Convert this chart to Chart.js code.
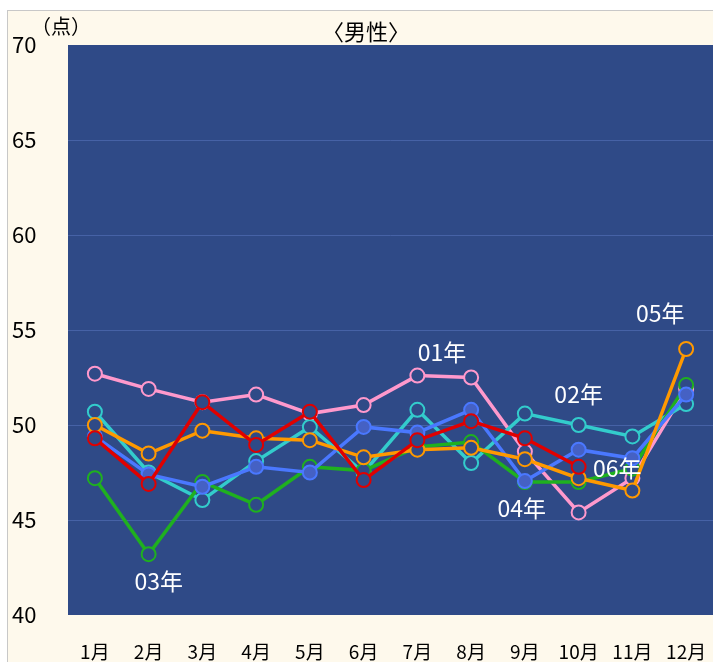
<!DOCTYPE html>
<html>
<head>
<meta charset="utf-8">
<script src="https://cdn.jsdelivr.net/npm/chart.js@4"></script>
<style>
  html, body { margin: 0; padding: 0; background: #fff; overflow: hidden; }
  #frame { position: absolute; left: 7px; top: 10px; width: 706px; height: 652px;
           background: #FEF9EC; border-left: 1px solid #C8C8C8; border-top: 1px solid #C8C8C8; box-sizing: border-box; }
  #chart { position: absolute; left: 0; top: 0; }
</style>
</head>
<body>
<div id="frame"></div>
<canvas id="chart" width="713" height="662"></canvas>
<script>
const months = ["1月", "2月", "3月", "4月", "5月", "6月", "7月", "8月", "9月", "10月", "11月", "12月"];
const yTicks = [40, 45, 50, 55, 60, 65, 70];

// 年ごとの平均点
const y01 = [52.7, 51.9, 51.2, 51.6, 50.6, 51.05, 52.6, 52.5, 48.6, 45.4, 47.2, 51.9];
const y02 = [50.7, 47.5, 46.05, 48.1, 49.9, 47.5, 50.8, 48.0, 50.6, 50.0, 49.4, 51.1];
const y03 = [47.2, 43.2, 47.0, 45.8, 47.8, 47.6, 48.85, 49.1, 47.0, 47.0, 47.7, 52.1];
const y04 = [49.4, 47.4, 46.75, 47.8, 47.5, 49.9, 49.6, 50.8, 47.05, 48.7, 48.25, 51.6];
const y05 = [50.0, 48.5, 49.7, 49.3, 49.2, 48.3, 48.7, 48.8, 48.2, 47.2, 46.55, 54.0];
const y06 = [49.3, 46.9, 51.2, 48.95, 50.7, 47.1, 49.2, 50.2, 49.3, 47.8, null, null];

// 系列ラベル（月の位置, 点数）
const seriesNames = ["01年", "02年", "03年", "04年", "05年", "06年"];
const nameAt = [[6.46, 53.85], [9.0, 51.6], [1.19, 41.8], [7.94, 45.6], [10.52, 55.9], [9.72, 47.7]];

const navy = "#2F4A87";
const font = "'Noto Sans CJK JP', 'Noto Sans', sans-serif";

function serie(label, data, color, fill, order) {
  return {
    label: label,
    data: data,
    borderColor: color,
    borderWidth: 3.5,
    tension: 0,
    pointRadius: 7,
    pointBorderWidth: 2,
    pointBorderColor: color,
    pointBackgroundColor: fill,
    order: order
  };
}

const fondo = {
  id: "fondo",
  beforeDraw(chart) {
    const a = chart.chartArea;
    const ctx = chart.ctx;
    ctx.save();
    ctx.fillStyle = navy;
    ctx.fillRect(a.left, a.top, a.right - a.left + 1, a.bottom - a.top);
    ctx.restore();
  },
  afterDraw(chart) {
    const ctx = chart.ctx;
    const x = chart.scales.x, y = chart.scales.y;
    ctx.save();
    ctx.fillStyle = "#000";
    ctx.textAlign = "center";
    ctx.textBaseline = "middle";
    ctx.font = "22px " + font;
    ctx.fillText("〈男性〉", 366, 32);
    ctx.font = "20px " + font;
    ctx.fillText("（点）", 61, 26);
    ctx.fillStyle = "#fff";
    ctx.font = "23px " + font;
    seriesNames.forEach((n, i) => {
      ctx.fillText(n, x.getPixelForValue(nameAt[i][0]), y.getPixelForValue(nameAt[i][1]));
    });
    ctx.restore();
  }
};

new Chart(document.getElementById("chart"), {
  type: "line",
  data: {
    labels: months,
    datasets: [
      serie("01年", y01, "#FF99CC", navy, 5),
      serie("02年", y02, "#33CCCC", navy, 4),
      serie("03年", y03, "#1FB01F", navy, 3),
      serie("04年", y04, "#4A78FF", "#4561C4", 2),
      serie("05年", y05, "#FF9900", navy, 1),
      serie("06年", y06, "#E00000", navy, 0)
    ]
  },
  options: {
    responsive: false,
    animation: false,
    devicePixelRatio: 1,
    layout: { autoPadding: false, padding: { left: 12, top: 45, right: 0, bottom: 0 } },
    plugins: { legend: { display: false }, tooltip: { enabled: false } },
    scales: {
      x: {
        offset: true,
        grid: { display: false, drawTicks: false },
        border: { display: false },
        ticks: { color: "#000", font: { family: font, size: 19 }, padding: 25, maxRotation: 0, autoSkip: false },
        afterFit(s) { s.height = 47; s.paddingLeft = 0; s.paddingRight = 0; }
      },
      y: {
        min: yTicks[0],
        max: yTicks[yTicks.length - 1],
        afterBuildTicks(s) { s.ticks = yTicks.map(v => ({ value: v })); },
        grid: {
          drawTicks: false,
          lineWidth: 1,
          color: c => (c.tick.value === 40 || c.tick.value === 70) ? "rgba(0,0,0,0)" : "#4662A6"
        },
        border: { display: false },
        ticks: { color: "#000", font: { family: font, size: 22 }, crossAlign: "far", padding: 0 },
        afterFit(s) { s.width = 56; s.paddingTop = 0; s.paddingBottom = 0; }
      }
    }
  },
  plugins: [fondo]
});
</script>
</body>
</html>
